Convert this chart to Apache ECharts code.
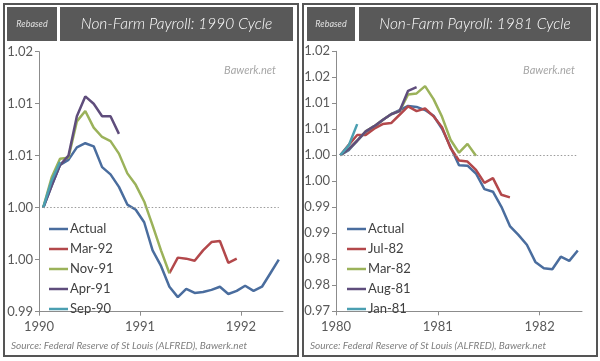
<!DOCTYPE html>
<html><head><meta charset="utf-8">
<script src="https://cdn.jsdelivr.net/npm/echarts@6/dist/echarts.min.js"></script>
<style>html,body{margin:0;padding:0;background:#fff}#c{width:600px;height:361px}</style>
</head><body><div id="c"></div>
<script>
// ---------- 1990 cycle (monthly, Jan-1990 .. May-1992) ----------
const years1990 = ['1990', '1991', '1992'];
const yLabels1990 = ['0.99', '1.00', '1.00', '1.01', '1.01', '1.02'];
const actual1990 = [1.0000, 1.0021, 1.0041, 1.0046, 1.0058, 1.0062, 1.0059, 1.0039, 1.0032, 1.0020,
  1.0003, 0.9998, 0.9986, 0.9959, 0.9944, 0.9924, 0.9914, 0.9922, 0.9918, 0.9919,
  0.9921, 0.9924, 0.9917, 0.9920, 0.9925, 0.9920, 0.9924, 0.9937, 0.9950];
const mar92_1990 = [null, null, null, null, null, null, null, null, null, null,
  null, null, null, null, null, 0.9937, 0.9952, 0.9951, 0.9949, 0.9959,
  0.9967, 0.9968, 0.9947, 0.9951];
const nov91_1990 = [1.0000, 1.0029, 1.0047, 1.0048, 1.0083, 1.0093, 1.0077, 1.0068, 1.0064, 1.0052,
  1.0033, 1.0022, 1.0006, 0.9983, 0.9959, 0.9937];
const apr91_1990 = [1.0000, 1.0021, 1.0041, 1.0050, 1.0088, 1.0107, 1.0100, 1.0088, 1.0088, 1.0071];
const sep90_1990 = [1.0000, 1.0026, 1.0044];

// ---------- 1981 cycle (monthly, Jan-1980 .. May-1982) ----------
const years1981 = ['1980', '1981', '1982'];
const yLabels1981 = ['0.97', '0.98', '0.98', '0.99', '0.99', '1.00', '1.00', '1.01', '1.01', '1.02', '1.02'];
const actual1981 = [1.0000, 1.0010, 1.0028, 1.0045, 1.0054, 1.0068, 1.0079, 1.0087, 1.0095, 1.0093,
  1.0087, 1.0076, 1.0051, 1.0016, 0.9981, 0.9980, 0.9965, 0.9935, 0.9930, 0.9901,
  0.9864, 0.9847, 0.9828, 0.9795, 0.9783, 0.9781, 0.9805, 0.9797, 0.9817];
const jul82_1981 = [1.0000, 1.0020, 1.0039, 1.0039, 1.0051, 1.0060, 1.0062, 1.0078, 1.0094, 1.0085,
  1.0090, 1.0075, 1.0054, 1.0014, 0.9990, 0.9988, 0.9972, 0.9947, 0.9956, 0.9924, 0.9919];
const mar82_1981 = [1.0000, 1.0012, 1.0028, 1.0046, 1.0056, 1.0068, 1.0079, 1.0085, 1.0117, 1.0119,
  1.0133, 1.0108, 1.0074, 1.0030, 1.0005, 1.0022, 0.9999];
const aug81_1981 = [1.0000, 1.0012, 1.0028, 1.0046, 1.0056, 1.0068, 1.0079, 1.0085, 1.0124, 1.0131];
const jan81_1981 = [1.0000, 1.0019, 1.0060];

const names1990 = ['Actual', 'Mar-92', 'Nov-91', 'Apr-91', 'Sep-90'];
const names1981 = ['Actual', 'Jul-82', 'Mar-82', 'Aug-81', 'Jan-81'];
const colors = ['#4a6d9e', '#b3484b', '#9bb25a', '#5f4d7c', '#4b9fb1'];
const nMonths = 29;

const FONT = 'Lato, "Open Sans", sans-serif';
const AXIS_COLOR = '#8c8c8c';
const LABEL_COLOR = '#595959';

function toXY(arr) { return arr.map((v, i) => [i + 0.5, v]); }

function mkSeries(name, arr, idx, ci, isActual) {
  const s = {
    name: name, type: 'line', xAxisIndex: idx, yAxisIndex: idx,
    data: toXY(arr), showSymbol: false, symbol: 'none', connectNulls: false,
    color: colors[ci], lineStyle: { color: colors[ci], width: 2.5 },
    animation: false, z: 3
  };
  if (isActual) {
    s.markLine = {
      symbol: 'none', silent: true, label: { show: false },
      lineStyle: { type: [1.5, 2], color: '#9a9a9a', width: 1 },
      data: [[{ coord: [0.5, 1] }, { coord: [nMonths - 0.5, 1] }]]
    };
  }
  return s;
}

function xAxisCfg(idx, years) {
  return {
    type: 'value', gridIndex: idx, min: 0, max: nMonths, interval: 12,
    axisLine: { show: true, onZero: false, lineStyle: { color: AXIS_COLOR, width: 1 } },
    axisTick: { show: true, length: 4, lineStyle: { color: AXIS_COLOR } },
    splitLine: { show: false },
    axisLabel: {
      color: LABEL_COLOR, fontSize: 13, fontFamily: FONT, margin: 9,
      showMaxLabel: false,
      formatter: v => (v % 12 === 0 ? (years[v / 12] || '') : '')
    }
  };
}

function yAxisCfg(idx, min, max, labels) {
  return {
    type: 'value', gridIndex: idx, min: min, max: max, interval: 0.005,
    axisLine: { show: true, onZero: false, lineStyle: { color: AXIS_COLOR, width: 1 } },
    axisTick: { show: true, length: 4, lineStyle: { color: AXIS_COLOR } },
    splitLine: { show: false },
    axisLabel: {
      color: LABEL_COLOR, fontSize: 13, fontFamily: FONT, margin: 6,
      formatter: v => labels[Math.round((v - min) / 0.005)] || ''
    }
  };
}

function legendCfg(left, names) {
  return {
    orient: 'vertical', left: left, top: 217, data: names,
    icon: 'rect', itemWidth: 19, itemHeight: 2.5, itemGap: 6,
    selectedMode: false,
    textStyle: { color: '#404040', fontSize: 13, fontFamily: FONT, lineHeight: 14, padding: [0, 0, 0, -3] }
  };
}

function panelGraphics(x0, w, rebX, rebW, titX, titW, title, wmX) {
  return [
    { type: 'rect', shape: { x: x0, y: 4, width: w, height: 352 }, style: { fill: 'none', stroke: '#555', lineWidth: 2 }, silent: true },
    { type: 'rect', shape: { x: rebX, y: 7, width: rebW, height: 34 }, style: { fill: '#595959' }, silent: true },
    { type: 'rect', shape: { x: titX, y: 7, width: titW, height: 34 }, style: { fill: '#595959' }, silent: true },
    { type: 'text', x: rebX + rebW / 2, y: 24, style: { text: 'Rebased', fill: '#e0e0e0', font: 'italic 9px ' + FONT, align: 'center', verticalAlign: 'middle' }, silent: true },
    { type: 'text', x: titX + titW / 2, y: 24, style: { text: title, fill: '#ffffff', font: 'italic 300 15.5px ' + FONT, align: 'center', verticalAlign: 'middle' }, silent: true },
    { type: 'text', x: wmX, y: 70, style: { text: 'Bawerk.net', fill: '#a6a6a6', font: 'italic 11px ' + FONT, align: 'center', verticalAlign: 'middle' }, silent: true },
    { type: 'text', x: x0 + 7, y: 346, style: { text: 'Source: Federal Reserve of St Louis (ALFRED), Bawerk.net', fill: '#7f7f7f', font: 'italic 10px ' + FONT, align: 'left', verticalAlign: 'middle' }, silent: true }
  ];
}

const series = [
  mkSeries(names1990[0], actual1990, 0, 0, true),
  mkSeries(names1990[1], mar92_1990, 0, 1),
  mkSeries(names1990[2], nov91_1990, 0, 2),
  mkSeries(names1990[3], apr91_1990, 0, 3),
  mkSeries(names1990[4], sep90_1990, 0, 4),
  mkSeries(names1981[0], actual1981, 1, 0, true),
  mkSeries(names1981[1], jul82_1981, 1, 1),
  mkSeries(names1981[2], mar82_1981, 1, 2),
  mkSeries(names1981[3], aug81_1981, 1, 3),
  mkSeries(names1981[4], jan81_1981, 1, 4)
];

const chart = echarts.init(document.getElementById('c'), null, { renderer: 'canvas' });
chart.setOption({
  backgroundColor: '#ffffff',
  animation: false,
  grid: [
    { left: 39, top: 51.7, width: 244, height: 260 },
    { left: 336, top: 51.3, width: 246, height: 260 }
  ],
  xAxis: [xAxisCfg(0, years1990), xAxisCfg(1, years1981)],
  yAxis: [yAxisCfg(0, 0.99, 1.015, yLabels1990), yAxisCfg(1, 0.97, 1.02, yLabels1981)],
  legend: [legendCfg(44, names1990), legendCfg(342, names1981)],
  series: series,
  graphic: [].concat(
    panelGraphics(4, 294, 7, 50, 60, 233, 'Non-Farm Payroll: 1990 Cycle', 250),
    panelGraphics(303, 294, 307, 48, 359, 232, 'Non-Farm Payroll: 1981 Cycle', 549)
  )
});
</script>
</body></html>
